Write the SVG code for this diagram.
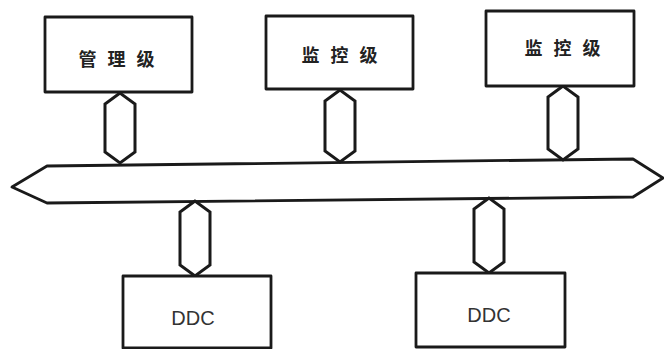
<svg xmlns="http://www.w3.org/2000/svg" width="664" height="349" viewBox="0 0 664 349">
<style>
.box{fill:#fff;stroke:#1a1a1a;stroke-width:2.8;stroke-linejoin:round}
.link{fill:none;stroke:#1a1a1a;stroke-width:3;stroke-linejoin:miter}
.cn{font-family:"Noto Sans CJK SC","Noto Sans",sans-serif;font-size:18px;font-weight:bold;fill:#222;text-anchor:middle;letter-spacing:11px}
.en{font-family:"Liberation Sans","DejaVu Sans",sans-serif;font-size:20px;fill:#333;text-anchor:middle}
</style>
<rect width="664" height="349" fill="#fff"/>
<g id="bus">
<polygon class="box" points="47,166 633,159 663,178 633,197 47,203 12,187"/>
</g>
<g id="connectors">
<polygon class="link" points="120,93 105,104 105,152 120,163 135,152 135,104"/>
<polygon class="link" points="340,90 325,101 325,151 340,162 355,151 355,101"/>
<polygon class="link" points="563,86 548,97 548,149 563,160 578,149 578,97"/>
<polygon class="link" points="195,201 180,212 180,265 195,276 210,265 210,212"/>
<polygon class="link" points="489,198 474,209 474,262 489,273 504,262 504,209"/>
</g>
<g id="node-mgmt">
<rect class="box" x="45" y="17" width="147" height="75"/>
<text class="cn" x="122" y="66">管理级</text>
</g>
<g id="node-mon1">
<rect class="box" x="266" y="16" width="147" height="73"/>
<text class="cn" x="345" y="62">监控级</text>
</g>
<g id="node-mon2">
<rect class="box" x="486" y="11" width="148" height="75"/>
<text class="cn" x="568" y="55">监控级</text>
</g>
<g id="node-ddc1">
<rect class="box" x="123" y="276" width="148" height="72"/>
<text class="en" x="193" y="325">DDC</text>
</g>
<g id="node-ddc2">
<rect class="box" x="416" y="273" width="149" height="74"/>
<text class="en" x="489" y="322">DDC</text>
</g>
</svg>
